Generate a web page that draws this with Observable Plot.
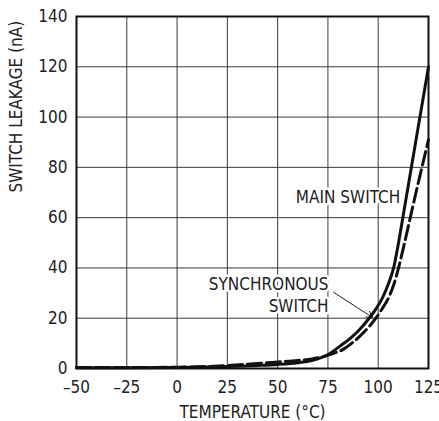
<!DOCTYPE html>
<html><head><meta charset="utf-8">
<script src="https://cdn.jsdelivr.net/npm/d3@7"></script>
<script src="https://cdn.jsdelivr.net/npm/@observablehq/plot@0.6"></script>
<style>body{margin:0;background:#fff}</style>
</head><body><div id="chart"></div>
<script>
const xTicks = [-50, -25, 0, 25, 50, 75, 100, 125];
const xTickLabels = ["–50", "–25", "0", "25", "50", "75", "100", "125"];
const yTicks = [0, 20, 40, 60, 80, 100, 120, 140];

// MAIN SWITCH (solid)
const mainT = [-50, -25, 0, 15, 25, 40, 50, 60, 67, 72, 76, 81, 86, 90.3, 95.3, 99, 102.3, 105, 107.75, 109.4, 111.4, 115, 120, 125];
const mainV = [0.3, 0.3, 0.4, 0.6, 0.8, 1.2, 1.6, 2.3, 3.2, 4.4, 6.0, 8.9, 11.9, 15.1, 19.8, 23.8, 28.4, 33.5, 40.3, 46.9, 56, 73, 96.5, 120];

// SYNCHRONOUS SWITCH (dashed)
const syncT = [-50, -25, 0, 15, 25, 40, 50, 60, 67, 72, 77, 83, 88, 93.7, 98.65, 102, 105.3, 108, 110.2, 112.2, 118.5, 125];
const syncV = [0.4, 0.4, 0.5, 0.8, 1.2, 2.0, 2.6, 3.2, 3.8, 4.6, 5.8, 7.8, 10.8, 15.1, 19.8, 23.8, 28.4, 34, 40.3, 46.9, 69, 91];

const mainData = mainT.map((t, i) => ({t, v: mainV[i]}));
const syncData = syncT.map((t, i) => ({t, v: syncV[i]}));

const font = "'Liberation Sans Narrow', 'DejaVu Sans Condensed', 'Liberation Sans', sans-serif";
const fs = 17;

const chart = Plot.plot({
  width: 439,
  height: 421,
  marginTop: 16,
  marginLeft: 76,
  marginRight: 11,
  marginBottom: 53,
  style: {fontFamily: font, fontSize: fs + "px", color: "#222", background: "#fff"},
  x: {domain: [-50, 125]},
  y: {domain: [0, 140]},
  marks: [
    Plot.gridX(xTicks, {stroke: "#3a3a3a", strokeOpacity: 1, strokeWidth: 1}),
    Plot.gridY(yTicks, {stroke: "#3a3a3a", strokeOpacity: 1, strokeWidth: 1}),
    Plot.text(["MAIN SWITCH"], {x: () => 85, y: () => 68, text: d => d, fill: "#222", stroke: "white", strokeWidth: 5, fontSize: fs}),
    Plot.text(["SYNCHRONOUS\nSWITCH"], {x: () => 75.3, y: () => 29.6, text: d => d, textAnchor: "end", lineAnchor: "middle", lineHeight: 1.28, fill: "#222", stroke: "white", strokeWidth: 5, fontSize: fs}),
    Plot.arrow([0], {x1: () => 77.8, y1: () => 30.3, x2: () => 97.2, y2: () => 20.3, stroke: "#222", strokeWidth: 1, headLength: 10}),
    Plot.line(mainData, {x: "t", y: "v", stroke: "#111", strokeWidth: 3, curve: "monotone-x"}),
    Plot.line(syncData, {x: "t", y: "v", stroke: "#111", strokeWidth: 3, strokeDasharray: "14,5", curve: "monotone-x"}),
    Plot.frame({stroke: "#111", strokeWidth: 2}),
    Plot.axisX(xTicks, {tickSize: 0, tickPadding: 12, tickFormat: d => xTickLabels[xTicks.indexOf(d)], label: null, fontSize: fs}),
    Plot.axisY(yTicks, {tickSize: 0, tickPadding: 9, label: null, fontSize: fs}),
    Plot.text(["TEMPERATURE (°C)"], {frameAnchor: "bottom", dy: 44, lineAnchor: "middle", text: d => d, fill: "#222", fontSize: fs}),
    Plot.text(["SWITCH LEAKAGE (nA)"], {frameAnchor: "left", dx: -60, rotate: -90, text: d => d, fill: "#222", fontSize: fs})
  ]
});
document.getElementById("chart").append(chart);
</script>
</body></html>
